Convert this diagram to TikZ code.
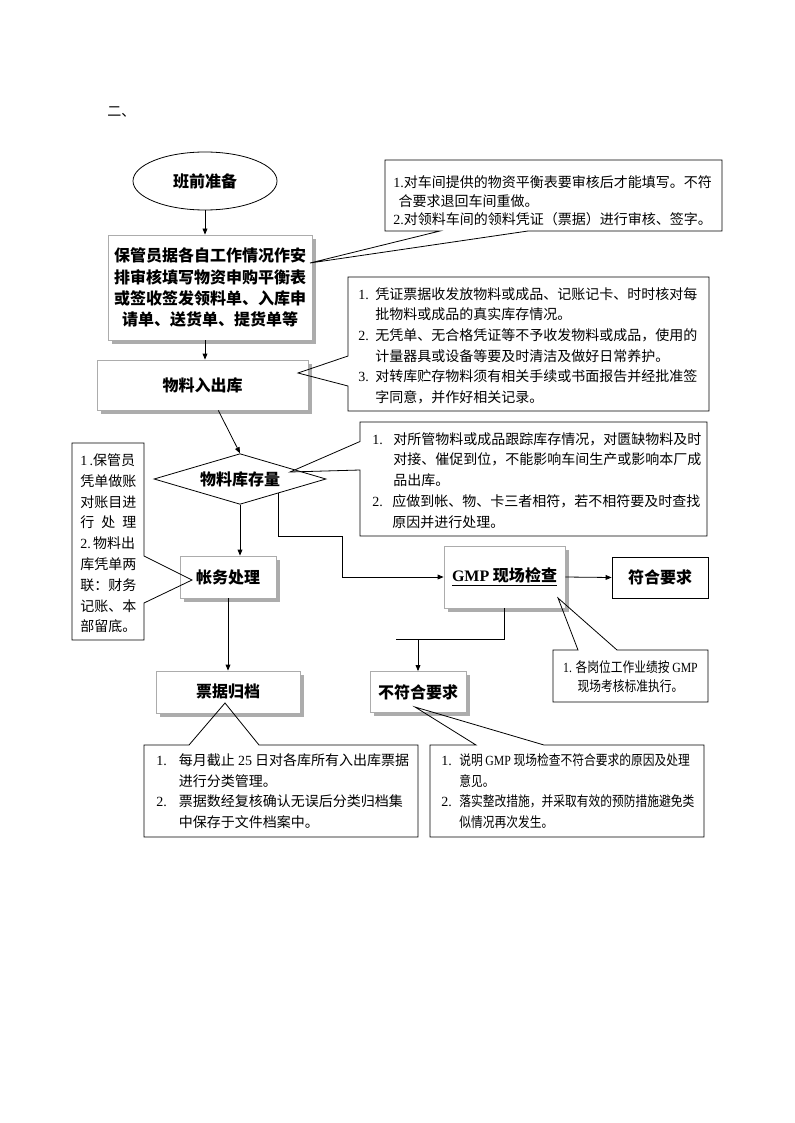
\documentclass[tikz,border=0pt]{standalone}
\usepackage{fontspec}
\setmainfont{Noto Sans CJK SC}
\newfontfamily\latfont{Liberation Serif}
\newfontfamily\latcfont[FakeStretch=0.84]{Liberation Serif}
\newfontfamily\cndfont[FakeStretch=0.84]{Noto Sans CJK SC}
\usetikzlibrary{shapes.geometric,arrows.meta,calc,shadows}
\begin{document}
\begin{tikzpicture}[x=0.75pt,y=-0.75pt,
  box/.style={draw=gray!65, fill=white, line width=0.6pt, inner sep=0pt,
    font=\bfseries\fontsize{12}{15.8}\selectfont, align=center,
    drop shadow={opacity=1, fill=gray!65, shadow xshift=2.8pt, shadow yshift=-2.8pt}},
  plainbox/.style={draw, fill=white, line width=0.6pt, inner sep=0pt,
    font=\bfseries\fontsize{12}{15.8}\selectfont},
  arr/.style={line width=0.6pt, -{Triangle[length=4.5pt,width=3.6pt]}},
  link/.style={line width=0.6pt},
  callout/.style={draw, line width=0.6pt, line join=miter},
  ctext/.style={inner sep=0pt, anchor=north west, align=left}
]
\fill[white] (0,0) rectangle (794,1123);
\useasboundingbox (0,0) rectangle (794,1123);

% heading
\node[inner sep=0pt, anchor=west, font=\fontsize{10.5}{13}\selectfont] (head) at (107,112) {二、};

% main nodes
\node[draw, line width=0.6pt, ellipse, inner sep=0pt, minimum width=108pt, minimum height=43.5pt,
      font=\bfseries\fontsize{12}{15}\selectfont] (ell) at (205,181) {班前准备};
\node[box, minimum width=153pt, minimum height=78.75pt] (box1) at (210,287.5)
  {保管员据各自工作情况作安\\排审核填写物资申购平衡表\\或签收签发领料单、入库申\\请单、送货单、提货单等};
\node[box, minimum width=158.25pt, minimum height=37.5pt] (box2) at (202.5,385) {物料入出库};
\node[draw, line width=0.6pt, diamond, inner sep=0pt, shape aspect=3.4, minimum width=129pt, minimum height=38pt,
      font=\bfseries\fontsize{12}{15}\selectfont] (dia) at (240,479) {物料库存量};
\node[box, minimum width=72pt, minimum height=31.5pt] (zw) at (228,577) {帐务处理};
\node[box, minimum width=90.75pt, minimum height=46.5pt] (gmp) at (504.5,577)
  {\underline{{\latfont\bfseries GMP} 现场检查}};
\node[plainbox, minimum width=72pt, minimum height=30.75pt] (ok) at (660,577.5) {符合要求};
\node[box, minimum width=108pt, minimum height=31.5pt] (pj) at (228,692) {票据归档};
\node[box, minimum width=72pt, minimum height=30.75pt] (bf) at (418,692) {不符合要求};

% connectors
\draw[arr] (ell.south) -- (ell.south |- box1.north);
\draw[arr] (box1.south -| ell.south) -- (ell.south |- box2.north);
\draw[arr] ($(box2.south)+(15.8,0)$) -- (dia.north);
\draw[arr] (dia.south) -- (dia.south |- zw.north);
\draw[arr] (zw.south) -- (pj.north);
\coordinate (dp) at ($(dia.east)!0.56!(dia.south)$);
\coordinate (b1) at (342,536);
\draw[arr] (dp) |- (b1) |- (gmp.west);
\draw[arr] (gmp.east) -- (ok.west);
\coordinate (g1) at (504.5,639);
\coordinate (g2) at (396,639);
\coordinate (g3) at (418,639);
\draw[link] (gmp.south) -- (g1) -- (g2);
\draw[arr] (g3) -- (bf.north);

% callout outlines
\draw[callout] (385,160) -- (722,160) -- (722,231) -- (528,231) -- (310,263) -- (440,231) -- (385,231) -- cycle;
\draw[callout] (348,277) -- (709,277) -- (709,411) -- (348,411) -- (348,386) -- (298,373) -- (348,356) -- cycle;
\draw[callout] (360,422) -- (707,422) -- (707,536) -- (360,536) -- (360,470) -- (290,472) -- (360,441.5) -- cycle;
\draw[callout] (72,443) -- (144,443) -- (144,556) -- (192,580) -- (144,603) -- (144,640) -- (72,640) -- cycle;
\draw[callout] (553,650) -- (578,650) -- (558,598) -- (617,650) -- (708,650) -- (708,702) -- (553,702) -- cycle;
\draw[callout] (144,745) -- (189,745) -- (225,703) -- (259,745) -- (418,745) -- (418,837) -- (144,837) -- cycle;
\draw[callout] (430,745) -- (476,745) -- (415,707) -- (544,745) -- (704,745) -- (704,837) -- (430,837) -- cycle;

% callout texts
\node[ctext, font=\fontsize{10.5}{14.2}\selectfont] (c1) at (393,175)
  {{\latfont 1.}对车间提供的物资平衡表要审核后才能填写。不符\\
   \hspace*{4pt}合要求退回车间重做。\\
   {\latfont 2.}对领料车间的领料凭证（票据）进行审核、签字。};
\node[ctext, font=\fontsize{10.5}{15.5}\selectfont] (c2) at (358,287)
  {\makebox[12.75pt][l]{\latfont 1.}凭证票据收发放物料或成品、记账记卡、时时核对每\\
   \hspace*{12.75pt}批物料或成品的真实库存情况。\\
   \makebox[12.75pt][l]{\latfont 2.}无凭单、无合格凭证等不予收发物料或成品，使用的\\
   \hspace*{12.75pt}计量器具或设备等要及时清洁及做好日常养护。\\
   \makebox[12.75pt][l]{\latfont 3.}对转库贮存物料须有相关手续或书面报告并经批准签\\
   \hspace*{12.75pt}字同意，并作好相关记录。};
\node[ctext, font=\fontsize{10.5}{15.6}\selectfont] (c3) at (372,432)
  {\makebox[15.75pt][l]{\latfont 1.}对所管物料或成品跟踪库存情况，对匮缺物料及时\\
   \hspace*{15.75pt}对接、催促到位，不能影响车间生产或影响本厂成\\
   \hspace*{15.75pt}品出库。\\
   \makebox[15pt][l]{\latfont 2.}应做到帐、物、卡三者相符，若不相符要及时查找\\
   \hspace*{15pt}原因并进行处理。};
\node[ctext, font=\fontsize{10.5}{15.6}\selectfont] (cl) at (80,453.5)
  {{\latfont 1\,.}保管员\\凭单做账\\对账目进\\行\hspace{5.25pt}处\hspace{5.25pt}理\\
   {\latfont 2.}\,物料出\\库凭单两\\联：财务\\记账、本\\部留底。};
\node[inner sep=0pt, anchor=north, align=center, font=\cndfont\fontsize{10.5}{13.9}\selectfont] (c4) at (630.5,660.5)
  {{\latcfont 1.} 各岗位工作业绩按 {\latcfont GMP}\\现场考核标准执行。};
\node[ctext, font=\fontsize{10.5}{15.45}\selectfont] (c5) at (156,753.5)
  {\makebox[17pt][l]{\latfont 1.}每月截止 {\latfont 25} 日对各库所有入出库票据\\
   \hspace*{17pt}进行分类管理。\\
   \makebox[17pt][l]{\latfont 2.}票据数经复核确认无误后分类归档集\\
   \hspace*{17pt}中保存于文件档案中。};
\node[ctext, font=\cndfont\fontsize{10.5}{15.45}\selectfont] (c6) at (441,753.5)
  {\makebox[13.5pt][l]{\latfont 1.}说明 {\latcfont GMP} 现场检查不符合要求的原因及处理\\
   \hspace*{13.5pt}意见。\\
   \makebox[13.5pt][l]{\latfont 2.}落实整改措施，并采取有效的预防措施避免类\\
   \hspace*{13.5pt}似情况再次发生。};
\end{tikzpicture}
\end{document}
